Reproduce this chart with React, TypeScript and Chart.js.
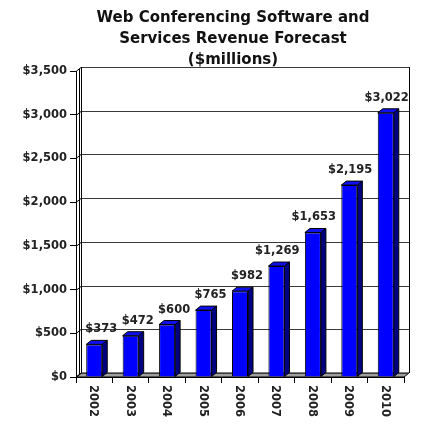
import { useEffect, useRef } from "react";
import { Chart, registerables } from "chart.js";

Chart.register(...registerables);

const titleLines = ["Web Conferencing Software and", "Services Revenue Forecast", "($millions)"];
const years = ["2002", "2003", "2004", "2005", "2006", "2007", "2008", "2009", "2010"];
const revenue = [373, 472, 600, 765, 982, 1269, 1653, 2195, 3022];
const yMin = 0;
const yMax = 3500;
const yStep = 500;

const DX = 5;
const DY = 4;
const FONT = "'DejaVu Sans', Verdana, sans-serif";

function money(v: number): string {
  return "$" + Number(v).toLocaleString("en-US");
}

const fake3d = {
  id: "fake3d",
  beforeDatasetsDraw(chart: any) {
    const { ctx, chartArea } = chart;
    const { left, right, top, bottom } = chartArea;
    const y = chart.scales.y;
    ctx.save();
    ctx.lineWidth = 1;
    // floor
    ctx.fillStyle = "#a0a0a0";
    ctx.strokeStyle = "#000";
    ctx.beginPath();
    ctx.moveTo(left, bottom);
    ctx.lineTo(right, bottom);
    ctx.lineTo(right + DX, bottom - DY);
    ctx.lineTo(left + DX, bottom - DY);
    ctx.closePath();
    ctx.fill();
    ctx.stroke();
    // back wall gridlines
    y.ticks.forEach((t: any) => {
      const py = Math.round(y.getPixelForValue(t.value) - DY) + 0.5;
      ctx.strokeStyle = "#3a3a3a";
      ctx.beginPath();
      ctx.moveTo(left + DX, py);
      ctx.lineTo(right + DX, py);
      ctx.stroke();
      ctx.strokeStyle = "#000";
      ctx.beginPath();
      ctx.moveTo(left, py + DY);
      ctx.lineTo(left + DX, py);
      ctx.stroke();
    });
    // wall edges
    ctx.strokeStyle = "#000";
    const lx = Math.round(left + DX) + 0.5;
    const rx = Math.round(right + DX) + 0.5;
    ctx.beginPath();
    ctx.moveTo(lx, top - DY);
    ctx.lineTo(lx, bottom - DY);
    ctx.moveTo(rx, top - DY);
    ctx.lineTo(rx, bottom - DY);
    ctx.moveTo(Math.round(left + 2.5) + 0.5, top - 2);
    ctx.lineTo(Math.round(left + 2.5) + 0.5, bottom - 2);
    ctx.stroke();
    ctx.restore();
  },
  afterDatasetsDraw(chart: any) {
    const { ctx } = chart;
    const meta = chart.getDatasetMeta(0);
    ctx.save();
    ctx.lineWidth = 1;
    ctx.strokeStyle = "#000";
    meta.data.forEach((bar: any, i: number) => {
      const p = bar.getProps(["x", "y", "width", "base"], true);
      const l = p.x - p.width / 2;
      const r = p.x + p.width / 2;
      const ty = p.y;
      const b = p.base;
      // side face
      ctx.fillStyle = "#000080";
      ctx.beginPath();
      ctx.moveTo(r, ty);
      ctx.lineTo(r + DX, ty - DY);
      ctx.lineTo(r + DX, b - DY);
      ctx.lineTo(r, b);
      ctx.closePath();
      ctx.fill();
      ctx.stroke();
      // top face
      ctx.fillStyle = "#1010ee";
      ctx.beginPath();
      ctx.moveTo(l, ty);
      ctx.lineTo(l + DX, ty - DY);
      ctx.lineTo(r + DX, ty - DY);
      ctx.lineTo(r, ty);
      ctx.closePath();
      ctx.fill();
      ctx.stroke();
      // value label
      ctx.fillStyle = "#222";
      ctx.font = `bold 11.5px ${FONT}`;
      ctx.textAlign = "right";
      ctx.textBaseline = "alphabetic";
      ctx.fillText(money(revenue[i]), r + 15, ty - 12);
    });
    ctx.restore();
  },
  afterDraw(chart: any) {
    const { ctx, chartArea } = chart;
    const x = chart.scales.x;
    ctx.save();
    // title
    ctx.fillStyle = "#111";
    ctx.font = `bold 15px ${FONT}`;
    ctx.textAlign = "center";
    ctx.textBaseline = "alphabetic";
    const baselines = [22, 43, 63.5];
    titleLines.forEach((line, i) => {
      ctx.fillText(line, 233, baselines[i]);
    });
    // rotated category labels
    ctx.font = `bold 11.5px ${FONT}`;
    ctx.fillStyle = "#222";
    ctx.textAlign = "left";
    ctx.textBaseline = "middle";
    years.forEach((yr, i) => {
      const px = x.getPixelForValue(i);
      ctx.save();
      ctx.translate(px - 1, chartArea.bottom + 8);
      ctx.rotate(Math.PI / 2);
      ctx.fillText(yr, 0, 0);
      ctx.restore();
    });
    ctx.restore();
  },
};

export default function App() {
  const ref = useRef<HTMLCanvasElement | null>(null);
  useEffect(() => {
    document.body.style.margin = "0";
    if (!ref.current) return;
    const chart = new Chart(ref.current, {
      type: "bar",
      data: {
        labels: years,
        datasets: [
          {
            data: revenue,
            backgroundColor: "#0000ff",
            borderColor: "#000",
            borderWidth: 1,
            barPercentage: 0.44,
            categoryPercentage: 1,
          },
        ],
      },
      options: {
        animation: false,
        responsive: false,
        devicePixelRatio: 1,
        layout: { padding: { top: 71, right: 18, bottom: 42, left: 0 } },
        plugins: {
          legend: { display: false },
          title: { display: false },
          tooltip: { enabled: false },
        },
        scales: {
          x: {
            ticks: { display: false },
            grid: { drawOnChartArea: false, drawTicks: true, tickLength: 6, color: "#000", offset: true },
            border: { color: "#000" },
          },
          y: {
            min: yMin,
            max: yMax,
            afterFit: (s: any) => {
              s.width = 76;
            },
            ticks: {
              stepSize: yStep,
              padding: 3,
              color: "#222",
              font: { family: FONT, size: 11.5, weight: "bold" },
              callback: (v: any) => money(v),
            },
            grid: { drawOnChartArea: false, drawTicks: true, tickLength: 6, color: "#000" },
            border: { color: "#000" },
          },
        },
      },
      plugins: [fake3d],
    });
    return () => chart.destroy();
  }, []);
  return (
    <div style={{ width: 422, height: 425 }}>
      <canvas ref={ref} width={422} height={425} />
    </div>
  );
}
